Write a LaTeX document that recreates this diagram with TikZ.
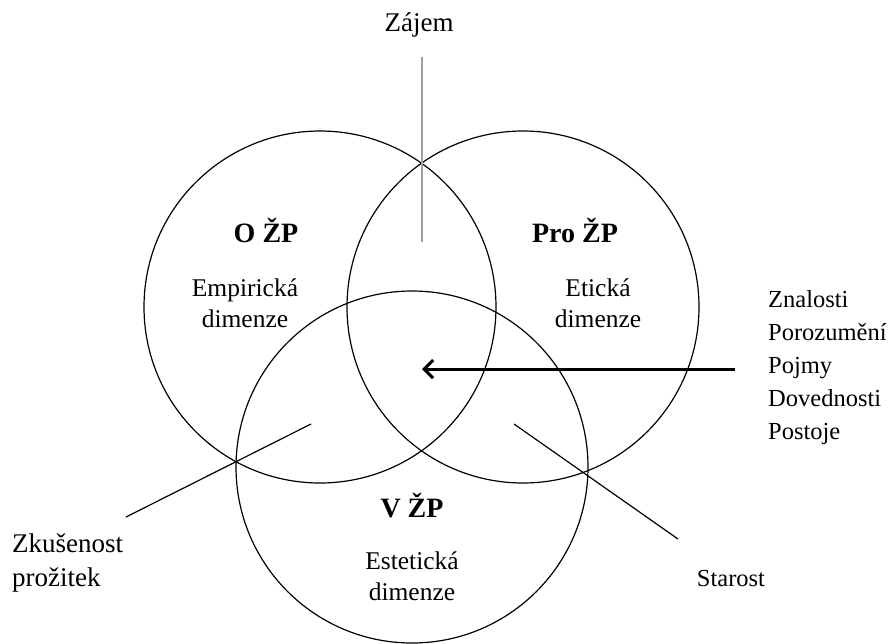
\documentclass[tikz,border=0pt]{standalone}
\usepackage{fontspec}
\setmainfont{Liberation Serif}
\usetikzlibrary{arrows.meta}
\begin{document}
\begin{tikzpicture}[x=1pt, y=-1pt, every node/.style={font=\fontsize{24.5}{28}\selectfont, inner sep=0pt},
  ring/.style={draw, circle, line width=1.2pt, minimum size=352pt},
  head/.style={font=\fontsize{28}{32}\selectfont\bfseries},
  pair/.style={align=center, font=\fontsize{25.5}{31}\selectfont}]
\useasboundingbox (0,0) rectangle (890,643);
% the three circles
\node[ring] (oz) at (320,307) {};
\node[ring] (proz) at (523,307) {};
\node[ring] (vz) at (412,467) {};
% titles and dimensions
\node[head] (ozt) at (266,230) {O ŽP};
\node[pair] (emp) at (245,303) {Empirická\\dimenze};
\node[head] (prozt) at (575,230) {Pro ŽP};
\node[pair] (eti) at (598,303) {Etická\\dimenze};
\node[head] (vzt) at (412,506) {V ŽP};
\node[pair] (est) at (412,576) {Estetická\\dimenze};
% outer labels
\node[font=\fontsize{27}{30}\selectfont] (zajem) at (419,25) {Zájem};
\node[align=left, anchor=west, font=\fontsize{24.5}{33}\selectfont] (know) at (768,368) {Znalosti\\Porozumění\\Pojmy\\Dovednosti\\Postoje};
\node[align=left, anchor=west, font=\fontsize{27}{34}\selectfont] (zkus) at (12,563) {Zkušenost\\prožitek};
\node (starost) at (731,578) {Starost};
% connectors
\coordinate (zt) at (422,57);
\coordinate (zb) at (422,242);
\draw[line width=2pt, gray!75] (zt) -- (zb);
\coordinate (ka) at (735,369);
\coordinate (kb) at (422,369);
\draw[line width=3pt, -{Straight Barb[length=9pt, width=18pt]}] (ka) -- (kb);
\coordinate (la) at (126,517);
\coordinate (lb) at (311,424);
\draw[line width=1.2pt] (la) -- (lb);
\coordinate (ra) at (514,424);
\coordinate (rb) at (678,539);
\draw[line width=1.2pt] (ra) -- (rb);
\end{tikzpicture}
\end{document}
